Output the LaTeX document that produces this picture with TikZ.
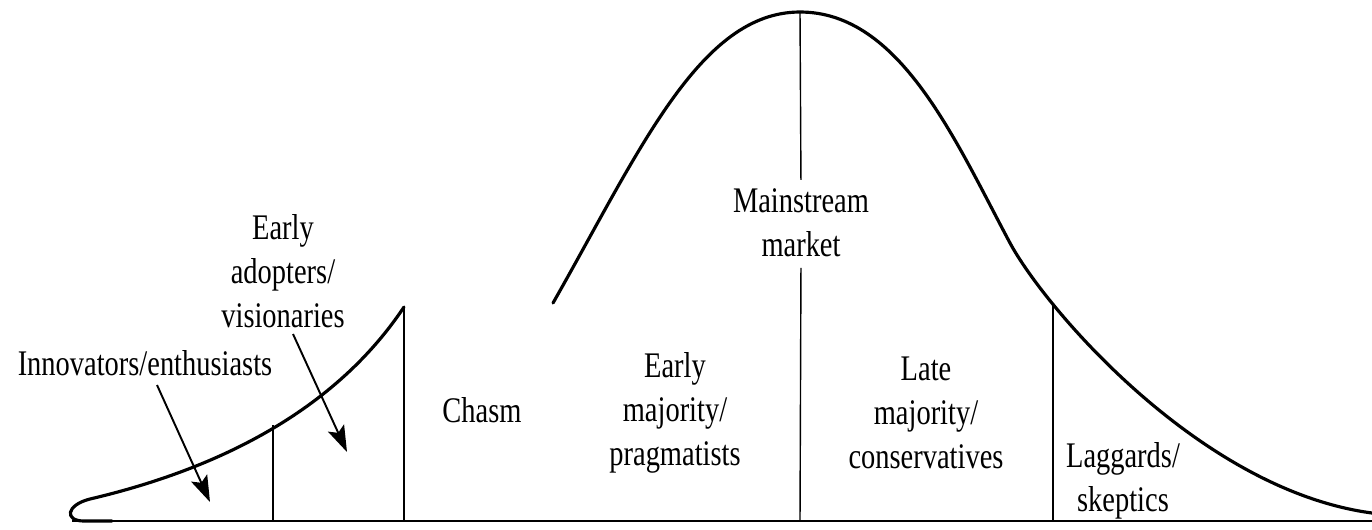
\documentclass[tikz,border=0pt]{standalone}
\usepackage{fontspec}
\setmainfont{Liberation Serif}[FakeStretch=0.79]
\usetikzlibrary{arrows.meta}

\begin{document}
\begin{tikzpicture}[x=0.02cm, y=-0.02cm, >={Stealth[length=15pt, width=10pt, inset=3pt]},
        curve/.style={line width=1.8pt, line join=round, line cap=round},
        divider/.style={line width=0.8pt},
        pointer/.style={->, line width=1.1pt},
        every node/.style={font=\fontsize{20.5}{25}\selectfont, align=center, inner sep=0pt}]

        \useasboundingbox (0,0) rectangle (1372,529);

        % --- Points on the curves and the axis ---
        \coordinate (base-l)   at (72,521);
        \coordinate (base-r)   at (1372,521);
        \coordinate (innov-t)  at (273,425);
        \coordinate (innov-b)  at (273,521);
        \coordinate (early-t)  at (404,307);
        \coordinate (early-b)  at (404,521);
        \coordinate (peak)     at (800,12);
        \coordinate (peak-b)   at (800,521);
        \coordinate (late-t)   at (1053,306);
        \coordinate (late-b)   at (1053,521);

        % --- Curves ---
        \draw[curve] (112,521) -- (84,521) .. controls (64,521) and (66,505) .. (90,499)
            .. controls (205,472) and (330,418) .. (early-t);
        \draw[curve] (553,303) .. controls (640,150) and (700,12) .. (peak)
            .. controls (900,12) and (955,140) .. (1010,243)
            .. controls (1045,308) and (1200,490) .. (1372,513);
        \draw[line width=1.4pt] (base-l) -- (base-r);

        % --- Labels ---
        \node (main)  at (801,223)  {Mainstream\\market};
        \node (adopt) at (283,271)  {Early\\adopters/\\visionaries};
        \node (innov) at (145,363)  {Innovators/enthusiasts};
        \node (chasm) at (482,410)  {Chasm};
        \node (emaj)  at (675,413)  {Early\\majority/\\pragmatists};
        \node (lmaj)  at (926,413)  {Late\\majority/\\conservatives};
        \node (lagg)  at (1123,481) {Laggards/\\skeptics};

        % --- Dividers ---
        \draw[divider] (innov-t) -- (innov-b);
        \draw[divider] (early-t) -- (early-b);
        \draw[divider] (late-t) -- (late-b);
        \draw[divider, shorten >=5pt] (peak) -- (main.north);
        \draw[divider, shorten <=6pt] (main.south) -- (peak-b);

        % --- Pointers ---
        \coordinate (innov-from) at (157,385);
        \coordinate (innov-to)   at (210,502);
        \coordinate (adopt-from) at (293,334);
        \coordinate (adopt-to)   at (347,452);
        \draw[pointer] (innov-from) -- (innov-to);
        \draw[pointer] (adopt-from) -- (adopt-to);

\end{tikzpicture}
\end{document}
